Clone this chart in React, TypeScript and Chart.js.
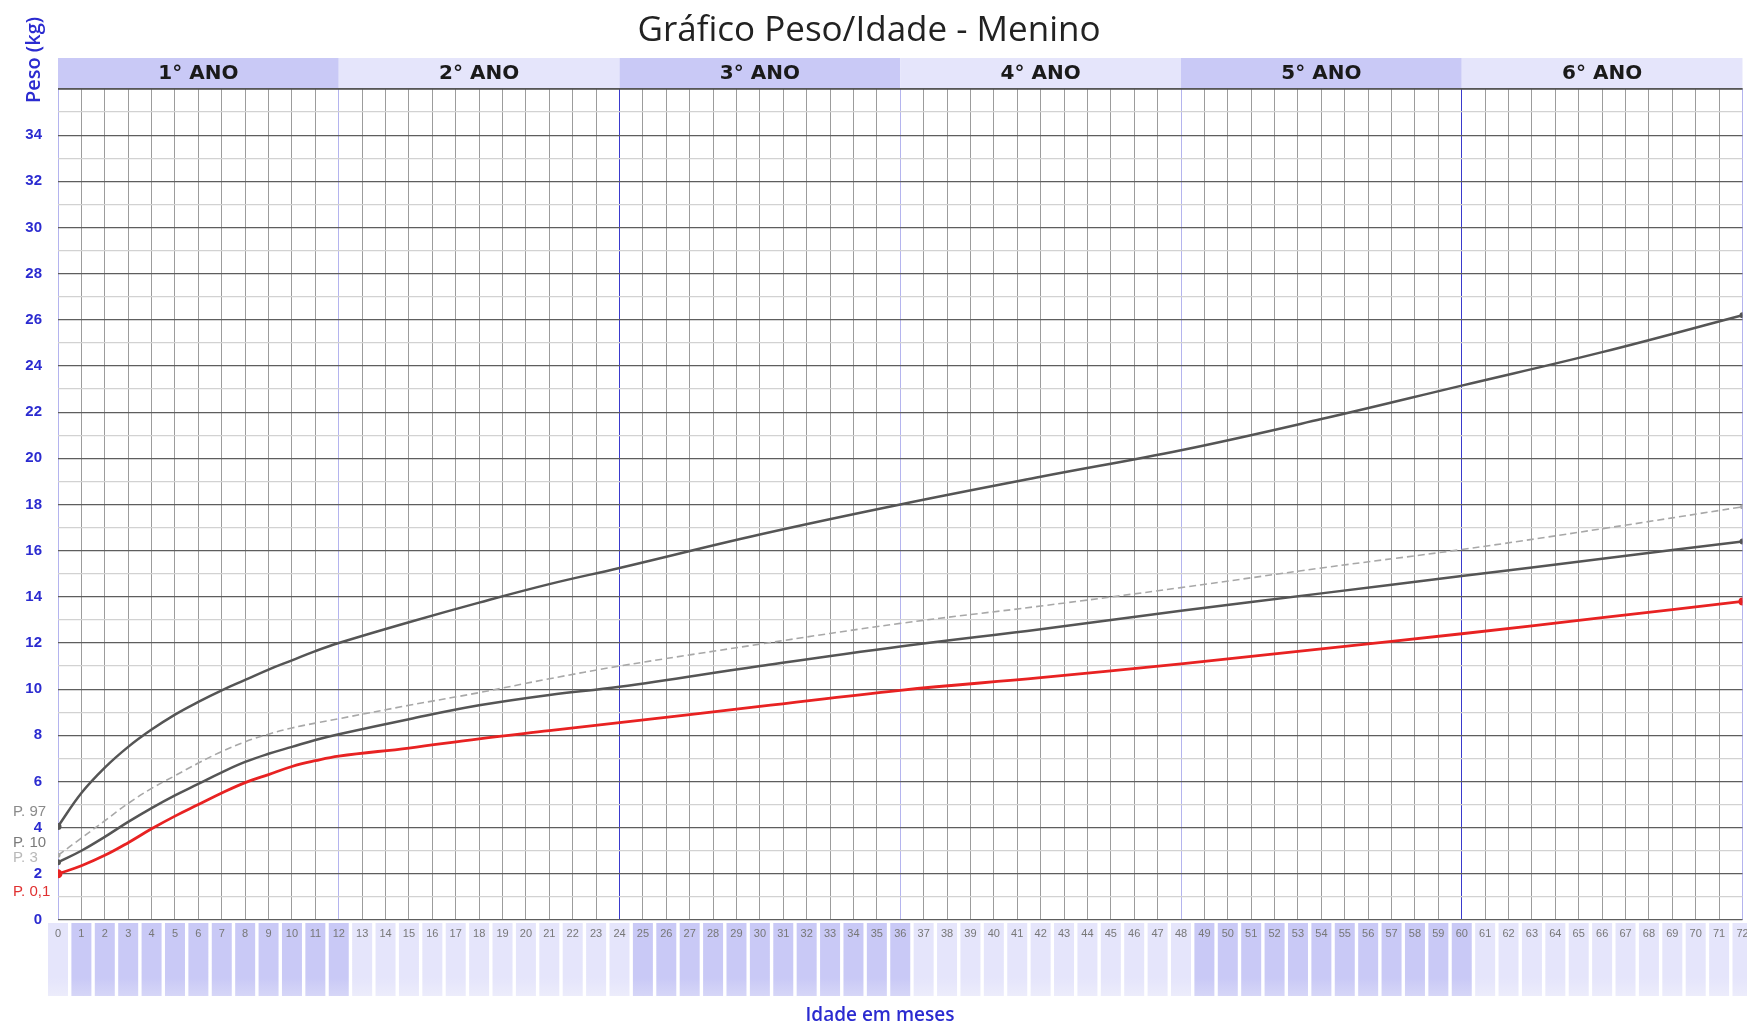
import React, { useEffect, useRef } from "react";
import { Chart, registerables } from "chart.js";

Chart.register(...registerables);

// ---- data ----
const months = [0, 1, 2, 3, 4, 5, 6, 7, 8, 9, 10, 11, 12, 15, 18, 21, 24, 30, 36, 42, 48, 54, 60, 66, 72];
const p97 = [4.05, 5.5, 6.6, 7.5, 8.25, 8.9, 9.45, 9.95, 10.4, 10.85, 11.25, 11.65, 12.0, 12.9, 13.75, 14.55, 15.25, 16.7, 18.0, 19.2, 20.35, 21.7, 23.15, 24.6, 26.2];
const p10 = [2.8, 3.55, 4.3, 5.05, 5.7, 6.25, 6.8, 7.3, 7.72, 8.05, 8.32, 8.53, 8.72, 9.3, 9.85, 10.45, 11.0, 11.95, 12.85, 13.6, 14.4, 15.25, 16.05, 16.95, 17.9];
const p3 = [2.5, 3.0, 3.6, 4.25, 4.85, 5.4, 5.9, 6.4, 6.85, 7.2, 7.5, 7.8, 8.05, 8.7, 9.3, 9.75, 10.1, 11.0, 11.85, 12.6, 13.4, 14.15, 14.9, 15.65, 16.4];
const p01 = [2.0, 2.35, 2.8, 3.35, 3.95, 4.5, 5.0, 5.5, 5.95, 6.3, 6.65, 6.9, 7.1, 7.45, 7.85, 8.2, 8.55, 9.25, 9.95, 10.5, 11.1, 11.75, 12.4, 13.1, 13.8];

const yearLabels = ["1° ANO", "2° ANO", "3° ANO", "4° ANO", "5° ANO", "6° ANO"];
const yTickLabels = [0, 2, 4, 6, 8, 10, 12, 14, 16, 18, 20, 22, 24, 26, 28, 30, 32, 34];
const monthTicks = Array.from({ length: 73 }, (_, i) => i);
const pLabels = ["P. 97", "P. 10", "P. 3", "P. 0,1"];
const pLabelAt = [4.7, 3.35, 2.7, 1.2];
const pLabelColors = ["#8a8a8a", "#7a7a7a", "#b8b8b8", "#e03030"];

const DARK_BAND = "#c9c9f6";
const LIGHT_BAND = "#e5e5fb";
const BLUE = "#2b2bd0";

function pts(vals: number[]) {
  return months.map((m, i) => ({ x: m, y: vals[i] }));
}

function endRadius(r0: number, r1: number) {
  return months.map((_, i) => (i === 0 ? r0 : i === months.length - 1 ? r1 : 0));
}

export default function App() {
  const ref = useRef<HTMLCanvasElement | null>(null);

  useEffect(() => {
    const canvas = ref.current;
    if (!canvas) return;

    const decor = {
      id: "decor",
      beforeDraw(chart: any) {
        const c = chart.ctx;
        const xs = chart.scales.x;
        const area = chart.chartArea;
        c.save();
        c.fillStyle = "#ffffff";
        c.fillRect(0, 0, chart.width, chart.height);
        // year bands
        const bandTop = 58;
        for (let k = 0; k < 6; k++) {
          const x0 = xs.getPixelForValue(k * 12);
          const x1 = xs.getPixelForValue((k + 1) * 12);
          c.fillStyle = k % 2 === 0 ? DARK_BAND : LIGHT_BAND;
          c.fillRect(x0, bandTop, x1 - x0, area.top - bandTop);
        }
        // month cells
        const cellTop = area.bottom + 3;
        const cellBottom = 996;
        for (const m of monthTicks) {
          const cx = xs.getPixelForValue(m);
          const yr = m === 0 ? 1 : Math.ceil(m / 12) - 1;
          const g = c.createLinearGradient(0, cellTop, 0, cellBottom);
          const col = m === 0 ? LIGHT_BAND : yr % 2 === 0 ? DARK_BAND : LIGHT_BAND;
          g.addColorStop(0, col);
          g.addColorStop(0.75, col);
          g.addColorStop(1, yr % 2 === 0 && m !== 0 ? "#d6d6f7" : "#ececfb");
          c.fillStyle = g;
          c.fillRect(cx - 10, cellTop, 20, cellBottom - cellTop);
        }
        c.restore();
      },
      afterDraw(chart: any) {
        const c = chart.ctx;
        const xs = chart.scales.x;
        const ys = chart.scales.y;
        const area = chart.chartArea;
        c.save();
        // top border line of plot
        c.strokeStyle = "#555";
        c.lineWidth = 1.5;
        c.beginPath();
        c.moveTo(area.left, area.top);
        c.lineTo(area.right, area.top);
        c.stroke();
        // title
        c.fillStyle = "#222";
        c.font = "35px 'Open Sans'";
        c.textAlign = "center";
        c.textBaseline = "middle";
        c.fillText("Gráfico Peso/Idade - Menino", 869, 31);
        // year band text
        c.font = "bold 20px 'DejaVu Sans'";
        c.fillStyle = "#1a1a1a";
        for (let k = 0; k < 6; k++) {
          const xm = xs.getPixelForValue(k * 12 + 6);
          c.fillText(yearLabels[k], xm, 74);
        }
        // y tick labels
        c.font = "bold 15px 'Liberation Sans'";
        c.fillStyle = BLUE;
        c.textAlign = "right";
        for (const v of yTickLabels) {
          c.fillText(String(v), 42, ys.getPixelForValue(v));
        }
        // y title
        c.save();
        c.translate(34, 60);
        c.rotate(-Math.PI / 2);
        c.textAlign = "center";
        c.font = "600 20px 'Open Sans'";
        c.fillText("Peso (kg)", 0, 0);
        c.restore();
        // x tick labels
        c.font = "11px 'Liberation Sans'";
        c.fillStyle = "#777";
        c.textAlign = "center";
        for (const m of monthTicks) {
          c.fillText(String(m), xs.getPixelForValue(m), area.bottom + 14);
        }
        // x title
        c.font = "600 19px 'Open Sans'";
        c.fillStyle = BLUE;
        c.fillText("Idade em meses", 880, 1016);
        // percentile labels
        c.font = "15px 'Liberation Sans'";
        c.textAlign = "left";
        pLabels.forEach((t, i) => {
          c.fillStyle = pLabelColors[i];
          c.fillText(t, 13, ys.getPixelForValue(pLabelAt[i]));
        });
        c.restore();
      },
    };

    const vGridColor = (ctx: any) => {
      const v = ctx.tick ? ctx.tick.value : 0;
      if (v === 24 || v === 60) return "#3a3acc";
      if (v % 12 === 0) return "#b4b4ee";
      return "#9c9c9c";
    };
    const hGridColor = (ctx: any) => {
      const v = ctx.tick ? ctx.tick.value : 0;
      return v % 2 === 0 ? "#5e5e5e" : "#d2d2d2";
    };

    const lineBase = { tension: 0.4, pointBorderWidth: 0 };

    const chart = new Chart(canvas, {
      type: "line",
      data: {
        datasets: [
          {
            ...lineBase,
            label: "P. 97",
            data: pts(p97),
            borderColor: "#555555",
            backgroundColor: "#555555",
            borderWidth: 2.5,
            pointRadius: endRadius(3.5, 3),
          },
          {
            ...lineBase,
            label: "P. 10",
            data: pts(p10),
            borderColor: "#a8a8a8",
            backgroundColor: "#a8a8a8",
            borderWidth: 1.6,
            borderDash: [7, 4],
            pointRadius: endRadius(2.5, 2.5),
          },
          {
            ...lineBase,
            label: "P. 3",
            data: pts(p3),
            borderColor: "#555555",
            backgroundColor: "#555555",
            borderWidth: 2.5,
            pointRadius: endRadius(3, 3),
          },
          {
            ...lineBase,
            label: "P. 0,1",
            data: pts(p01),
            borderColor: "#e82222",
            backgroundColor: "#e82222",
            borderWidth: 2.8,
            pointRadius: endRadius(4.5, 4),
          },
        ],
      },
      options: {
        animation: false,
        responsive: true,
        maintainAspectRatio: false,
        layout: { padding: { left: 58, top: 89, right: 3, bottom: 106 } },
        plugins: {
          legend: { display: false },
          title: { display: false },
          tooltip: { enabled: false },
        },
        scales: {
          x: {
            type: "linear",
            min: 0,
            max: 72,
            ticks: { stepSize: 1, display: false, autoSkip: false },
            grid: { color: vGridColor, lineWidth: 1, drawTicks: false },
            border: { display: false },
          },
          y: {
            type: "linear",
            min: 0,
            max: 36,
            ticks: { stepSize: 1, display: false, autoSkip: false },
            grid: { color: hGridColor, lineWidth: 1.2, drawTicks: false },
            border: { display: false },
          },
        },
      },
      plugins: [decor],
    });

    return () => chart.destroy();
  }, []);

  return (
    <div style={{ position: "fixed", left: 0, top: 0, width: 1747, height: 1026, background: "#fff" }}>
      <canvas ref={ref} />
    </div>
  );
}
